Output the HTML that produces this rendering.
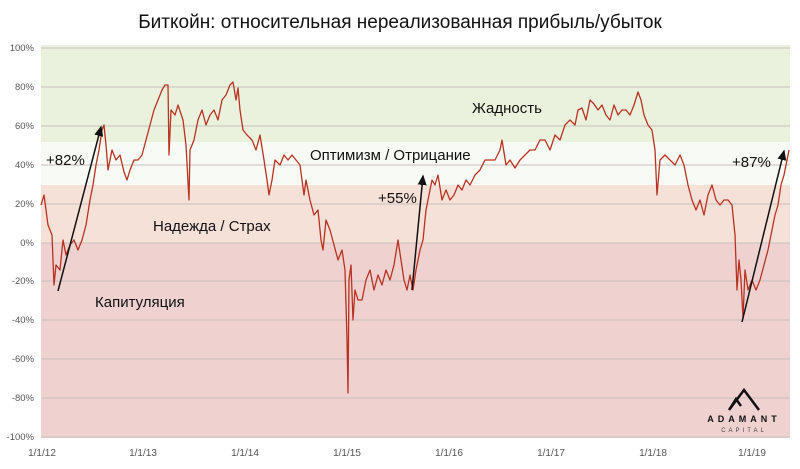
<!DOCTYPE html>
<html><head><meta charset="utf-8"><style>
body{margin:0;background:#fff;}
svg{display:block;font-family:"Liberation Sans","Noto Sans CJK SC",sans-serif;}
</style></head><body>
<svg width="800" height="469" viewBox="0 0 800 469">
<text x="400" y="28" text-anchor="middle" font-size="19" fill="#111">Биткойн: относительная нереализованная прибыль/убыток</text>
<rect x="41" y="45" width="749" height="97" fill="#eaf2de"/>
<rect x="41" y="142" width="749" height="43" fill="#f8faf5"/>
<rect x="41" y="185" width="749" height="58" fill="#f6e1d8"/>
<rect x="41" y="243" width="749" height="195" fill="#efd1d0"/>
<g stroke="#c9c0bc" stroke-width="1">
<line x1="41" x2="790" y1="48" y2="48"/><line x1="41" x2="790" y1="87" y2="87"/><line x1="41" x2="790" y1="126" y2="126"/><line x1="41" x2="790" y1="165" y2="165"/><line x1="41" x2="790" y1="204" y2="204"/><line x1="41" x2="790" y1="243" y2="243"/><line x1="41" x2="790" y1="281" y2="281"/><line x1="41" x2="790" y1="320" y2="320"/><line x1="41" x2="790" y1="359" y2="359"/><line x1="41" x2="790" y1="398" y2="398"/><line x1="41" x2="790" y1="437" y2="437"/>
</g>
<g font-size="9.5" fill="#555" text-anchor="end">
<text x="34" y="51">100%</text><text x="34" y="90">80%</text><text x="34" y="129">60%</text><text x="34" y="168">40%</text><text x="34" y="207">20%</text><text x="34" y="246">0%</text><text x="34" y="284">-20%</text><text x="34" y="323">-40%</text><text x="34" y="362">-60%</text><text x="34" y="401">-80%</text><text x="34" y="440">-100%</text>
</g>
<g font-size="10" fill="#555" text-anchor="middle">
<text x="42" y="456">1/1/12</text><text x="143" y="456">1/1/13</text><text x="245" y="456">1/1/14</text><text x="347" y="456">1/1/15</text><text x="449" y="456">1/1/16</text><text x="551" y="456">1/1/17</text><text x="653" y="456">1/1/18</text><text x="752" y="456">1/1/19</text>
</g>
<polyline fill="none" stroke="#b8321f" stroke-width="1.3" stroke-linejoin="round" points="41,205 44,195 48,225 52,235 54,285 56,265 60,270 63,240 66,255 70,245 74,240 78,250 82,240 86,225 90,200 93,185 96,165 99,150 102,130 104,125 106,145 108,170 112,150 116,160 120,155 124,172 127,180 130,170 134,160 138,160 142,155 146,140 150,125 154,110 158,100 162,90 165,85 168,85 169,155 171,110 175,115 178,105 183,120 186,145 189,200 190,150 194,140 198,120 202,110 206,125 210,115 214,110 218,120 222,100 226,95 230,85 233,82 236,100 238,88 240,110 243,130 247,135 252,140 256,150 260,135 264,160 267,180 269,195 272,180 275,160 280,165 284,155 288,160 292,155 296,160 300,165 304,195 306,180 310,200 314,215 318,210 321,240 323,250 326,220 330,230 334,245 338,260 342,250 345,270 347,340 348,393 349,280 351,265 353,320 355,290 358,300 362,300 366,280 370,270 374,290 378,275 382,285 386,270 390,280 394,265 398,240 401,260 404,280 407,290 410,275 413,290 416,270 420,250 423,240 426,210 429,195 432,180 435,185 438,175 442,200 446,190 450,200 454,195 458,185 462,190 466,180 470,185 475,175 480,170 485,160 490,160 495,160 500,150 502,140 506,165 510,160 515,168 520,160 525,155 530,150 535,150 540,140 545,140 550,150 555,135 560,140 565,125 570,120 575,125 578,110 582,108 586,120 590,100 594,104 598,110 602,105 606,115 610,120 614,105 618,115 622,110 626,110 630,115 634,105 638,92 641,100 644,115 648,125 652,130 655,150 657,195 660,160 665,155 670,160 675,165 680,155 684,165 688,185 692,200 696,210 700,200 704,215 708,195 712,185 716,200 720,205 724,200 728,200 732,205 735,235 737,290 739,260 741,280 743,318 745,270 748,290 752,280 756,290 760,280 764,265 768,250 772,230 775,215 778,205 781,185 784,175 787,160 789,150"/>
<defs><marker id="a" markerWidth="8" markerHeight="8" refX="6" refY="3" orient="auto"><path d="M0,0 L7,3 L0,6 z" fill="#111"/></marker></defs>
<g stroke="#111" stroke-width="1.5" marker-end="url(#a)">
<line x1="58" y1="291" x2="101" y2="127"/>
<line x1="412" y1="290" x2="423" y2="176"/>
<line x1="742" y1="322" x2="784" y2="151"/>
</g>
<g font-size="15" fill="#111">
<text x="46" y="165">+82%</text>
<text x="153" y="231">Надежда / Страх</text>
<text x="95" y="307">Капитуляция</text>
<text x="310" y="160">Оптимизм / Отрицание</text>
<text x="378" y="203">+55%</text>
<text x="472" y="113">Жадность</text>
<text x="732" y="167">+87%</text>
</g>
<path d="M729,410 L744,390 L759,410 M729,410 L736,399 L741,406" fill="none" stroke="#111" stroke-width="2.5"/>
<text x="744" y="422" text-anchor="middle" font-size="9" font-weight="bold" letter-spacing="4" fill="#111">ADAMANT</text>
<text x="744" y="432" text-anchor="middle" font-size="6" letter-spacing="3" fill="#444">CAPITAL</text>
</svg>
</body></html>
